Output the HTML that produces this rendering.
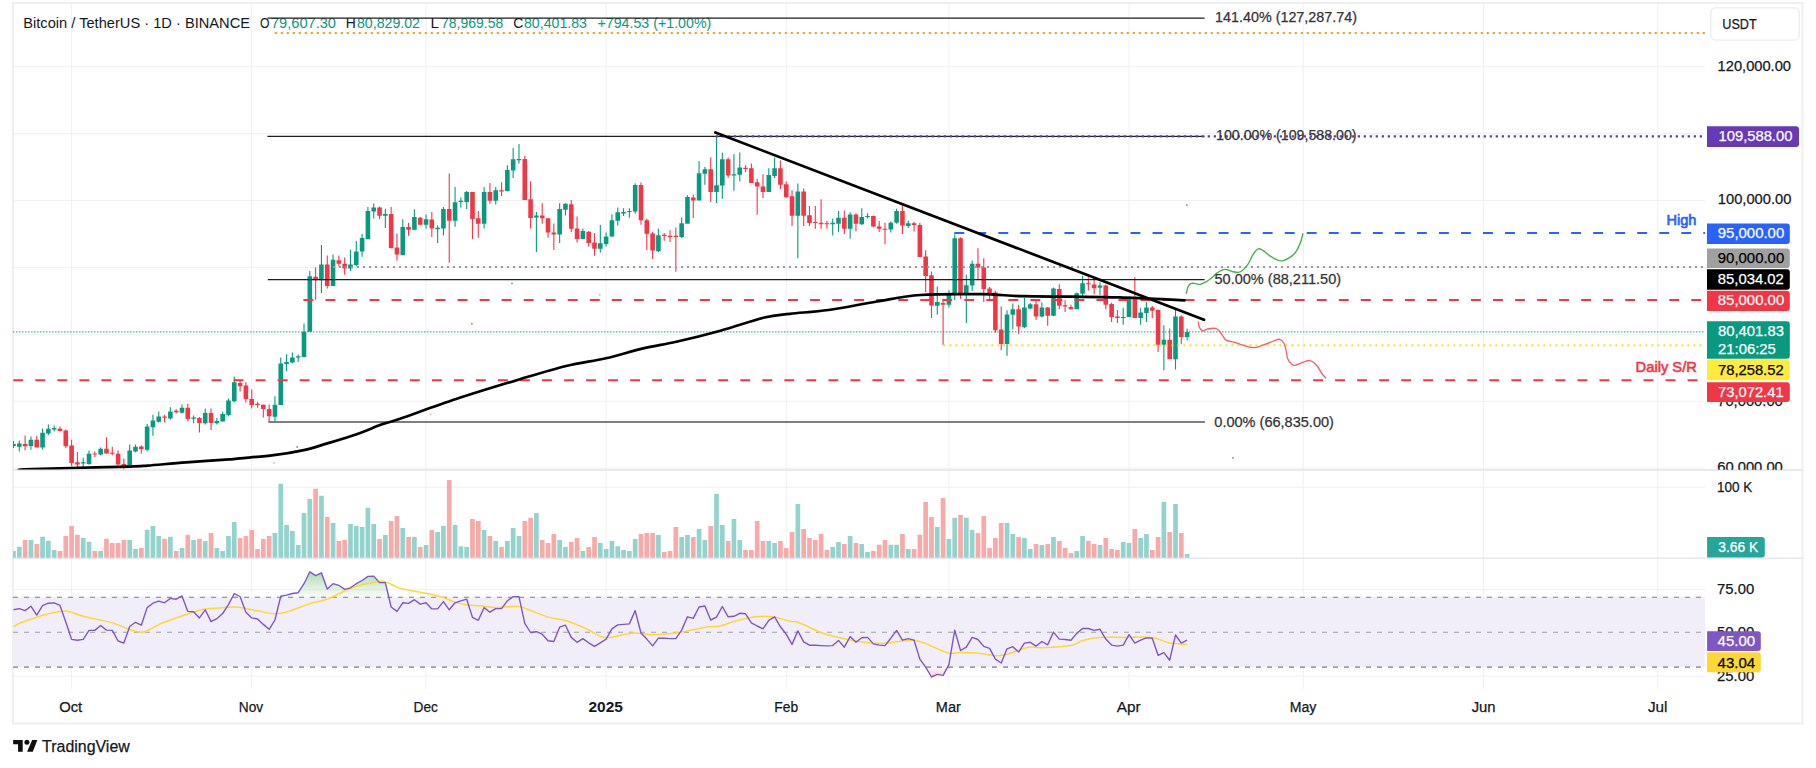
<!DOCTYPE html><html><head><meta charset="utf-8"><style>html,body{margin:0;padding:0;background:#fff;width:1816px;height:768px;overflow:hidden}svg{display:block}text{font-family:"Liberation Sans",sans-serif}</style></head><body>
<svg width="1816" height="768" viewBox="0 0 1816 768">
<defs>
<clipPath id="main"><rect x="13" y="3" width="1692" height="466.5"/></clipPath>
<clipPath id="vol"><rect x="13" y="470.5" width="1692" height="87.5"/></clipPath>
<clipPath id="rsi"><rect x="13" y="558.5" width="1692" height="130"/></clipPath>
<clipPath id="axmain"><rect x="1705" y="3" width="98" height="466.8"/></clipPath>
<linearGradient id="ob" x1="0" y1="0" x2="0" y2="1"><stop offset="0" stop-color="#4caf50" stop-opacity="0.45"/><stop offset="1" stop-color="#4caf50" stop-opacity="0.02"/></linearGradient>
<linearGradient id="os" x1="0" y1="0" x2="0" y2="1"><stop offset="0" stop-color="#f23645" stop-opacity="0.02"/><stop offset="1" stop-color="#f23645" stop-opacity="0.25"/></linearGradient>
</defs>
<rect x="13" y="3" width="1789.5" height="720.5" fill="#fff" stroke="#efefef" stroke-width="2"/>
<path d="M71.6 3V689 M251.7 3V689 M426 3V689 M606.1 3V689 M786.2 3V689 M948.9 3V689 M1129 3V689 M1303.3 3V689 M1483.4 3V689 M1657.7 3V689 M13 66.7H1705 M13 133.6H1705 M13 200.5H1705 M13 267.4H1705 M13 334.3H1705 M13 401.2H1705 M13 468.1H1705 M13 487.2H1705 M13 589.7H1705 M13 676.2H1705" stroke="#f0f0f0" stroke-width="1" fill="none"/>
<path d="M13 470H1803M13 558.2H1803" stroke="#e0e3eb" stroke-width="1.3" fill="none"/>
<g clip-path="url(#rsi)">
<rect x="13" y="597.2" width="1692" height="69.8" fill="#f2eef9"/>
<path d="M13 597.2H1705M13 667.1H1705" stroke="#787b86" stroke-width="1.1" stroke-dasharray="5 6" fill="none"/>
<path d="M13 632.2H1705" stroke="#9c9ea6" stroke-width="1.1" stroke-dasharray="5 6" fill="none"/>
<path d="M179.7 597.2 L181.99 595.9 L182.48 597.2 L182.48 597.2 L179.7 597.2Z" fill="url(#ob)"/>
<path d="M232.34 597.2 L234.28 593.5 L240.09 596.5 L240.35 597.2 L240.35 597.2 L232.34 597.2Z" fill="url(#ob)"/>
<path d="M280.53 597.2 L280.76 596.25 L286.57 595.1 L292.38 593.5 L298.19 592.7 L304 583.7 L309.81 571.8 L315.62 575.6 L321.43 572.8 L327.24 589.1 L333.05 583.7 L338.86 585.3 L344.67 589.4 L350.48 587.8 L356.29 583.7 L362.1 580.5 L367.91 576.4 L373.72 576.1 L379.53 582.6 L385.34 582.6 L388.82 597.2 L388.82 597.2 L280.53 597.2Z" fill="url(#ob)"/>
<path d="M512.45 597.2 L513.16 596.7 L518.97 596.7 L519.08 597.2 L519.08 597.2 L512.45 597.2Z" fill="url(#ob)"/>
<path d="M925.6 667.1 L925.67 667.2 L931.48 677 L937.29 674.4 L943.1 675.4 L947.57 667.1 L947.57 667.1 L925.6 667.1Z" fill="url(#os)"/>
<path d="M13.5 626.8 C14.5 626.22 16.32 624.65 19.5 623.3 C22.68 621.95 28.25 620.15 32.6 618.7 C36.95 617.25 40.18 615.9 45.6 614.6 C51.02 613.3 59.13 610.7 65.1 610.9 C71.07 611.1 75.97 614.37 81.4 615.8 C86.83 617.23 92.28 618.25 97.7 619.5 C103.12 620.75 109.02 621.8 113.9 623.3 C118.78 624.8 122.65 627.03 127 628.5 C131.35 629.97 136.75 631.7 140 632.1 C143.25 632.5 142.7 632.45 146.5 630.9 C150.3 629.35 156.83 625.32 162.8 622.8 C168.77 620.28 175.52 618.05 182.3 615.8 C189.08 613.55 197.27 610.58 203.5 609.3 C209.73 608.02 214.28 608.48 219.7 608.1 C225.12 607.72 229.9 606.58 236 607 C242.1 607.42 249.8 609.47 256.3 610.6 C262.8 611.73 269.58 613.67 275 613.8 C280.42 613.93 283.23 613.02 288.8 611.4 C294.37 609.78 301.88 606.18 308.4 604.1 C314.92 602.02 320.32 601.75 327.9 598.9 C335.48 596.05 345.5 589.88 353.9 587 C362.3 584.12 373.13 582.5 378.3 581.6 C383.47 580.7 381.92 580.77 384.9 581.6 C387.88 582.43 393.22 585.35 396.2 586.6 C399.18 587.85 397.63 587.95 402.8 589.1 C407.97 590.25 420.42 592.08 427.2 593.5 C433.98 594.92 438.9 596.17 443.5 597.6 C448.1 599.03 450.73 600.88 454.8 602.1 C458.87 603.32 463.7 604.3 467.9 604.9 C472.1 605.5 475.27 605.25 480 605.7 C484.73 606.15 490.07 607.52 496.3 607.6 C502.53 607.68 511.98 605.83 517.4 606.2 C522.82 606.57 523.63 607.98 528.8 609.8 C533.97 611.62 541.88 615.2 548.4 617.1 C554.92 619 561.4 619.17 567.9 621.2 C574.4 623.23 581.98 626.78 587.4 629.3 C592.82 631.82 596.6 634.95 600.4 636.3 C604.2 637.65 604.77 637.95 610.2 637.4 C615.63 636.85 625.95 633.45 633 633 C640.05 632.55 645.45 634.7 652.5 634.7 C659.55 634.7 668.78 633.77 675.3 633 C681.82 632.23 686.17 631.13 691.6 630.1 C697.03 629.07 703.17 627.48 707.9 626.8 C712.63 626.12 715.27 627 720 626 C724.73 625 730.33 622.33 736.3 620.8 C742.27 619.27 749.83 617.47 755.8 616.8 C761.77 616.13 766.13 616 772.1 616.8 C778.07 617.6 787.27 620.68 791.6 621.6 C795.93 622.52 793.22 620.48 798.1 622.3 C802.98 624.12 814.93 630.17 820.9 632.5 C826.87 634.83 827.67 634.8 833.9 636.3 C840.13 637.8 850.15 640.32 858.3 641.5 C866.45 642.68 876.02 643.4 882.8 643.4 C889.58 643.4 893.85 642.03 899 641.5 C904.15 640.97 909.35 639.88 913.7 640.2 C918.05 640.52 919.4 641.28 925.1 643.4 C930.8 645.52 942.08 651.37 947.9 652.9 C953.72 654.43 955.27 652.6 960 652.6 C964.73 652.6 970.87 652.45 976.3 652.9 C981.73 653.35 988.8 654.82 992.6 655.3 C996.4 655.78 996.4 656.07 999.1 655.8 C1001.8 655.53 1003.92 655.13 1008.8 653.7 C1013.68 652.27 1022.97 648.2 1028.4 647.2 C1033.83 646.2 1034.35 647.97 1041.4 647.7 C1048.45 647.43 1063.92 646.77 1070.7 645.6 C1077.48 644.43 1077.5 642.07 1082.1 640.7 C1086.7 639.33 1091.52 637.95 1098.3 637.4 C1105.08 636.85 1113.83 637.4 1122.8 637.4 C1131.77 637.4 1144.52 636.5 1152.1 637.4 C1159.68 638.3 1162.48 641.63 1168.3 642.8 C1174.12 643.97 1183.88 644.13 1187 644.4" stroke="#fdd835" stroke-width="1.5" fill="none" stroke-linejoin="round"/>
<path d="M13.5 609.8 L19.31 608.6 L25.12 610.6 L30.93 606.2 L36.74 615.1 L42.55 605.7 L48.36 603.2 L54.17 602.9 L59.98 605.4 L65.79 622 L71.6 639.4 L77.41 640.2 L83.22 639.4 L89.03 630.4 L94.84 630.4 L100.65 625.5 L106.46 630.1 L112.27 630.4 L118.08 641 L123.89 643.1 L129.7 626.5 L135.51 622.3 L141.32 625.2 L147.13 607.6 L152.94 603.2 L158.75 601.1 L164.56 602.8 L170.37 598.4 L176.18 599.2 L181.99 595.9 L187.8 611.4 L193.61 611.7 L199.42 617.9 L205.23 609.8 L211.04 621.6 L216.85 618.7 L222.66 613.5 L228.47 604.6 L234.28 593.5 L240.09 596.5 L245.9 612.2 L251.71 617.9 L257.52 619 L263.33 624.4 L269.14 629.3 L274.95 620 L280.76 596.25 L286.57 595.1 L292.38 593.5 L298.19 592.7 L304 583.7 L309.81 571.8 L315.62 575.6 L321.43 572.8 L327.24 589.1 L333.05 583.7 L338.86 585.3 L344.67 589.4 L350.48 587.8 L356.29 583.7 L362.1 580.5 L367.91 576.4 L373.72 576.1 L379.53 582.6 L385.34 582.6 L391.15 607 L396.96 611.4 L402.77 602.8 L408.58 603.4 L414.39 599.7 L420.2 604.1 L426.01 602.8 L431.82 608.9 L437.63 608.9 L443.44 601.6 L449.25 609.8 L455.06 602.8 L460.87 600.8 L466.68 599.2 L472.49 617.4 L478.3 620.3 L484.11 607.6 L489.92 612.2 L495.73 608.6 L501.54 608.6 L507.35 600.8 L513.16 596.7 L518.97 596.7 L524.78 623.3 L530.59 632.5 L536.4 631.7 L542.21 634.2 L548.02 640.7 L553.83 641.5 L559.64 627.2 L565.45 625.2 L571.26 637.4 L577.07 642.3 L582.88 638.6 L588.69 642.8 L594.5 646.4 L600.31 642.8 L606.12 639.1 L611.93 628.8 L617.74 624.9 L623.55 624.4 L629.36 623.9 L635.17 610.6 L640.98 633 L646.79 639.1 L652.6 645.9 L658.41 638.2 L664.22 638.2 L670.03 638.6 L675.84 638.6 L681.65 630.1 L687.46 616.8 L693.27 618.4 L699.08 607 L704.89 606 L710.7 620 L716.51 617.1 L722.32 606.5 L728.13 616.8 L733.94 616.3 L739.75 613.3 L745.56 613.8 L751.37 622.8 L757.18 626 L762.99 628.8 L768.8 620.3 L774.61 616.8 L780.42 626.8 L786.23 634.2 L792.04 644.4 L797.85 630.9 L803.66 641.8 L809.47 645.2 L815.28 645.2 L821.09 645.6 L826.9 645.9 L832.71 645.6 L838.52 640.4 L844.33 647.2 L850.14 636.6 L855.95 642.3 L861.76 637.8 L867.57 637.4 L873.38 643.9 L879.19 645.1 L885 645.6 L890.81 638.2 L896.62 630.4 L902.43 640.2 L908.24 638.6 L914.05 640.2 L919.86 659.1 L925.67 667.2 L931.48 677 L937.29 674.4 L943.1 675.4 L948.91 664.6 L954.72 630.1 L960.53 650.5 L966.34 647.2 L972.15 637.4 L977.96 639.5 L983.77 646.4 L989.58 648.3 L995.39 659.1 L1001.2 663 L1007.01 648.8 L1012.82 646.7 L1018.63 652.1 L1024.44 643.1 L1030.25 642.3 L1036.06 646.1 L1041.87 641.5 L1047.68 644.8 L1053.49 632.1 L1059.3 639.1 L1065.11 639.5 L1070.92 640.2 L1076.73 633.4 L1082.54 628.5 L1088.35 628.5 L1094.16 630.4 L1099.97 629.3 L1105.78 639.1 L1111.59 645.1 L1117.4 646.1 L1123.21 645.1 L1129.02 634.7 L1134.83 643.1 L1140.64 640.2 L1146.45 637.9 L1152.26 638.2 L1158.07 655.3 L1163.88 652.6 L1169.69 660.2 L1175.5 635 L1181.31 643.1 L1187.12 640.2" stroke="#7e57c2" stroke-width="1.4" fill="none" stroke-linejoin="round"/>
</g>
<g clip-path="url(#vol)">
<path d="M11.15 550.9h4.7V557.7h-4.7ZM16.96 546.8h4.7V557.7h-4.7ZM28.58 540h4.7V557.7h-4.7ZM40.2 536.8h4.7V557.7h-4.7ZM46.01 540.7h4.7V557.7h-4.7ZM51.82 550h4.7V557.7h-4.7ZM80.87 537.8h4.7V557.7h-4.7ZM86.68 541.7h4.7V557.7h-4.7ZM98.3 550.9h4.7V557.7h-4.7ZM127.35 540h4.7V557.7h-4.7ZM133.16 549.1h4.7V557.7h-4.7ZM144.78 529.8h4.7V557.7h-4.7ZM150.59 525.9h4.7V557.7h-4.7ZM156.4 535.9h4.7V557.7h-4.7ZM168.02 536.8h4.7V557.7h-4.7ZM179.64 548h4.7V557.7h-4.7ZM191.26 540h4.7V557.7h-4.7ZM202.88 540.9h4.7V557.7h-4.7ZM214.5 548h4.7V557.7h-4.7ZM220.31 550.9h4.7V557.7h-4.7ZM226.12 536h4.7V557.7h-4.7ZM231.93 521.9h4.7V557.7h-4.7ZM272.6 533.1h4.7V557.7h-4.7ZM278.41 483.8h4.7V557.7h-4.7ZM284.22 524.9h4.7V557.7h-4.7ZM290.03 531h4.7V557.7h-4.7ZM295.84 545h4.7V557.7h-4.7ZM301.65 513h4.7V557.7h-4.7ZM307.46 499h4.7V557.7h-4.7ZM319.08 495.8h4.7V557.7h-4.7ZM330.7 523h4.7V557.7h-4.7ZM348.13 523.9h4.7V557.7h-4.7ZM353.94 526h4.7V557.7h-4.7ZM359.75 527.1h4.7V557.7h-4.7ZM365.56 507.7h4.7V557.7h-4.7ZM371.37 523.9h4.7V557.7h-4.7ZM382.99 535.1h4.7V557.7h-4.7ZM400.42 528h4.7V557.7h-4.7ZM412.04 537.1h4.7V557.7h-4.7ZM423.66 545h4.7V557.7h-4.7ZM435.28 531.9h4.7V557.7h-4.7ZM441.09 526h4.7V557.7h-4.7ZM452.71 525.1h4.7V557.7h-4.7ZM458.52 546.2h4.7V557.7h-4.7ZM464.33 547h4.7V557.7h-4.7ZM481.76 530h4.7V557.7h-4.7ZM493.38 540.9h4.7V557.7h-4.7ZM505 540.9h4.7V557.7h-4.7ZM510.81 528h4.7V557.7h-4.7ZM516.62 536h4.7V557.7h-4.7ZM534.05 513h4.7V557.7h-4.7ZM557.29 540h4.7V557.7h-4.7ZM563.1 547h4.7V557.7h-4.7ZM580.53 550.9h4.7V557.7h-4.7ZM597.96 542.9h4.7V557.7h-4.7ZM603.77 549.1h4.7V557.7h-4.7ZM609.58 540.9h4.7V557.7h-4.7ZM615.39 546.2h4.7V557.7h-4.7ZM621.2 550.1h4.7V557.7h-4.7ZM627.01 550.9h4.7V557.7h-4.7ZM632.82 538.9h4.7V557.7h-4.7ZM656.06 535.1h4.7V557.7h-4.7ZM679.3 537.1h4.7V557.7h-4.7ZM685.11 535.1h4.7V557.7h-4.7ZM696.73 529h4.7V557.7h-4.7ZM702.54 540h4.7V557.7h-4.7ZM714.16 494h4.7V557.7h-4.7ZM719.97 525.1h4.7V557.7h-4.7ZM731.59 519h4.7V557.7h-4.7ZM737.4 540h4.7V557.7h-4.7ZM766.45 540.9h4.7V557.7h-4.7ZM772.26 542.9h4.7V557.7h-4.7ZM795.5 504h4.7V557.7h-4.7ZM830.36 547h4.7V557.7h-4.7ZM836.17 541.9h4.7V557.7h-4.7ZM847.79 536h4.7V557.7h-4.7ZM859.41 543.9h4.7V557.7h-4.7ZM865.22 552.1h4.7V557.7h-4.7ZM888.46 544.8h4.7V557.7h-4.7ZM894.27 544.8h4.7V557.7h-4.7ZM905.89 549.1h4.7V557.7h-4.7ZM934.94 527.1h4.7V557.7h-4.7ZM946.56 538.9h4.7V557.7h-4.7ZM952.37 517.8h4.7V557.7h-4.7ZM963.99 517.8h4.7V557.7h-4.7ZM969.8 530h4.7V557.7h-4.7ZM1004.66 523h4.7V557.7h-4.7ZM1010.47 533.9h4.7V557.7h-4.7ZM1022.09 538h4.7V557.7h-4.7ZM1027.9 549.1h4.7V557.7h-4.7ZM1039.52 545h4.7V557.7h-4.7ZM1051.14 537.1h4.7V557.7h-4.7ZM1074.38 550.9h4.7V557.7h-4.7ZM1080.19 536h4.7V557.7h-4.7ZM1097.62 545h4.7V557.7h-4.7ZM1120.86 541.9h4.7V557.7h-4.7ZM1126.67 542.9h4.7V557.7h-4.7ZM1138.29 538h4.7V557.7h-4.7ZM1144.1 533.9h4.7V557.7h-4.7ZM1161.53 501.9h4.7V557.7h-4.7ZM1173.15 504h4.7V557.7h-4.7ZM1184.77 554.1h4.7V557.7h-4.7Z" fill="#93d3cd"/>
<path d="M22.77 540h4.7V557.7h-4.7ZM34.39 543.9h4.7V557.7h-4.7ZM57.63 550.9h4.7V557.7h-4.7ZM63.44 535.9h4.7V557.7h-4.7ZM69.25 525.9h4.7V557.7h-4.7ZM75.06 534.8h4.7V557.7h-4.7ZM92.49 550.9h4.7V557.7h-4.7ZM104.11 538.8h4.7V557.7h-4.7ZM109.92 542.9h4.7V557.7h-4.7ZM115.73 542.9h4.7V557.7h-4.7ZM121.54 540h4.7V557.7h-4.7ZM138.97 548h4.7V557.7h-4.7ZM162.21 538.8h4.7V557.7h-4.7ZM173.83 550.9h4.7V557.7h-4.7ZM185.45 534.8h4.7V557.7h-4.7ZM197.07 538.8h4.7V557.7h-4.7ZM208.69 533.1h4.7V557.7h-4.7ZM237.74 538h4.7V557.7h-4.7ZM243.55 536h4.7V557.7h-4.7ZM249.36 530h4.7V557.7h-4.7ZM255.17 549.1h4.7V557.7h-4.7ZM260.98 538.9h4.7V557.7h-4.7ZM266.79 536h4.7V557.7h-4.7ZM313.27 488.8h4.7V557.7h-4.7ZM324.89 516.9h4.7V557.7h-4.7ZM336.51 540.9h4.7V557.7h-4.7ZM342.32 540.1h4.7V557.7h-4.7ZM377.18 538.9h4.7V557.7h-4.7ZM388.8 521h4.7V557.7h-4.7ZM394.61 516h4.7V557.7h-4.7ZM406.23 537.1h4.7V557.7h-4.7ZM417.85 547h4.7V557.7h-4.7ZM429.47 530h4.7V557.7h-4.7ZM446.9 480h4.7V557.7h-4.7ZM470.14 519h4.7V557.7h-4.7ZM475.95 521h4.7V557.7h-4.7ZM487.57 536h4.7V557.7h-4.7ZM499.19 547h4.7V557.7h-4.7ZM522.43 521h4.7V557.7h-4.7ZM528.24 517.8h4.7V557.7h-4.7ZM539.86 540h4.7V557.7h-4.7ZM545.67 542.9h4.7V557.7h-4.7ZM551.48 533.9h4.7V557.7h-4.7ZM568.91 541.9h4.7V557.7h-4.7ZM574.72 538h4.7V557.7h-4.7ZM586.34 547h4.7V557.7h-4.7ZM592.15 537.1h4.7V557.7h-4.7ZM638.63 533.9h4.7V557.7h-4.7ZM644.44 533.1h4.7V557.7h-4.7ZM650.25 533.1h4.7V557.7h-4.7ZM661.87 552.1h4.7V557.7h-4.7ZM667.68 550.9h4.7V557.7h-4.7ZM673.49 527.1h4.7V557.7h-4.7ZM690.92 537.1h4.7V557.7h-4.7ZM708.35 526h4.7V557.7h-4.7ZM725.78 540.9h4.7V557.7h-4.7ZM743.21 550.1h4.7V557.7h-4.7ZM749.02 550.1h4.7V557.7h-4.7ZM754.83 521h4.7V557.7h-4.7ZM760.64 540.9h4.7V557.7h-4.7ZM778.07 540.9h4.7V557.7h-4.7ZM783.88 548h4.7V557.7h-4.7ZM789.69 531.9h4.7V557.7h-4.7ZM801.31 529h4.7V557.7h-4.7ZM807.12 538h4.7V557.7h-4.7ZM812.93 540h4.7V557.7h-4.7ZM818.74 533.9h4.7V557.7h-4.7ZM824.55 550.1h4.7V557.7h-4.7ZM841.98 543.9h4.7V557.7h-4.7ZM853.6 542.9h4.7V557.7h-4.7ZM871.03 550.9h4.7V557.7h-4.7ZM876.84 544.8h4.7V557.7h-4.7ZM882.65 540h4.7V557.7h-4.7ZM900.08 533.9h4.7V557.7h-4.7ZM911.7 549.1h4.7V557.7h-4.7ZM917.51 534.8h4.7V557.7h-4.7ZM923.32 501.9h4.7V557.7h-4.7ZM929.13 516.9h4.7V557.7h-4.7ZM940.75 497.9h4.7V557.7h-4.7ZM958.18 514.9h4.7V557.7h-4.7ZM975.61 533.1h4.7V557.7h-4.7ZM981.42 516h4.7V557.7h-4.7ZM987.23 548h4.7V557.7h-4.7ZM993.04 538h4.7V557.7h-4.7ZM998.85 523h4.7V557.7h-4.7ZM1016.28 537.1h4.7V557.7h-4.7ZM1033.71 543.9h4.7V557.7h-4.7ZM1045.33 543.9h4.7V557.7h-4.7ZM1056.95 540.9h4.7V557.7h-4.7ZM1062.76 548h4.7V557.7h-4.7ZM1068.57 553h4.7V557.7h-4.7ZM1086 540.9h4.7V557.7h-4.7ZM1091.81 543.9h4.7V557.7h-4.7ZM1103.43 538h4.7V557.7h-4.7ZM1109.24 549.1h4.7V557.7h-4.7ZM1115.05 550.1h4.7V557.7h-4.7ZM1132.48 529h4.7V557.7h-4.7ZM1149.91 550.1h4.7V557.7h-4.7ZM1155.72 537.1h4.7V557.7h-4.7ZM1167.34 531.9h4.7V557.7h-4.7ZM1178.96 533.1h4.7V557.7h-4.7Z" fill="#f8aaa9"/>
</g>
<text x="23.25" y="28" font-size="15.2" fill="#131722" textLength="226.75" lengthAdjust="spacingAndGlyphs" stroke="#131722" stroke-width="0" >Bitcoin / TetherUS · 1D · BINANCE</text>
<text x="259.9" y="28" font-size="15.2" fill="#131722" textLength="9.5" lengthAdjust="spacingAndGlyphs" stroke="#131722" stroke-width="0" >O</text>
<text x="271" y="28" font-size="15.2" fill="#089981" textLength="65" lengthAdjust="spacingAndGlyphs" stroke="#089981" stroke-width="0" >79,607.30</text>
<text x="345.75" y="28" font-size="15.2" fill="#131722" textLength="10" lengthAdjust="spacingAndGlyphs" stroke="#131722" stroke-width="0" >H</text>
<text x="357" y="28" font-size="15.2" fill="#089981" textLength="63" lengthAdjust="spacingAndGlyphs" stroke="#089981" stroke-width="0" >80,829.02</text>
<text x="430.5" y="28" font-size="15.2" fill="#131722" textLength="8.5" lengthAdjust="spacingAndGlyphs" stroke="#131722" stroke-width="0" >L</text>
<text x="441" y="28" font-size="15.2" fill="#089981" textLength="62.25" lengthAdjust="spacingAndGlyphs" stroke="#089981" stroke-width="0" >78,969.58</text>
<text x="513.25" y="28" font-size="15.2" fill="#131722" textLength="10" lengthAdjust="spacingAndGlyphs" stroke="#131722" stroke-width="0" >C</text>
<text x="524" y="28" font-size="15.2" fill="#089981" textLength="63" lengthAdjust="spacingAndGlyphs" stroke="#089981" stroke-width="0" >80,401.83</text>
<text x="597.5" y="28" font-size="15.2" fill="#089981" textLength="113.75" lengthAdjust="spacingAndGlyphs" stroke="#089981" stroke-width="0" >+794.53 (+1.00%)</text>
<g clip-path="url(#main)">
<path d="M12.95 441h1.1V448h-1.1ZM18.76 440.5h1.1V451.4h-1.1ZM30.38 436.6h1.1V449.8h-1.1ZM42 428.4h1.1V449.4h-1.1ZM47.81 424.4h1.1V435.3h-1.1ZM53.62 425.6h1.1V431.6h-1.1ZM82.67 457.7h1.1V468.6h-1.1ZM88.48 450.6h1.1V464.7h-1.1ZM100.1 447.5h1.1V455.6h-1.1ZM129.15 444.4h1.1V466.25h-1.1ZM134.96 444.4h1.1V452.2h-1.1ZM146.58 424h1.1V451.4h-1.1ZM152.39 414.7h1.1V435.8h-1.1ZM158.2 411.6h1.1V422.5h-1.1ZM169.82 407.2h1.1V419.4h-1.1ZM181.44 404.5h1.1V413.4h-1.1ZM193.06 415.5h1.1V423.3h-1.1ZM204.68 408.4h1.1V424.4h-1.1ZM216.3 417.9h1.1V424.4h-1.1ZM222.11 411.6h1.1V421.8h-1.1ZM227.92 398.6h1.1V416.2h-1.1ZM233.73 376.5h1.1V402.2h-1.1ZM274.4 396.25h1.1V421.4h-1.1ZM280.21 357.6h1.1V405.1h-1.1ZM286.02 354.3h1.1V371.25h-1.1ZM291.83 352.4h1.1V363.2h-1.1ZM297.64 354.6h1.1V362.1h-1.1ZM303.45 323.6h1.1V356.9h-1.1ZM309.26 270.9h1.1V331.8h-1.1ZM320.88 245h1.1V293.1h-1.1ZM332.5 254.4h1.1V286.1h-1.1ZM349.93 249.8h1.1V270.9h-1.1ZM355.74 241.1h1.1V266.2h-1.1ZM361.55 234h1.1V256.8h-1.1ZM367.36 206.9h1.1V239.2h-1.1ZM373.17 203.6h1.1V218.6h-1.1ZM384.79 208.7h1.1V228h-1.1ZM402.22 219.3h1.1V255.2h-1.1ZM413.84 209.2h1.1V230.3h-1.1ZM425.46 214.6h1.1V228.7h-1.1ZM437.08 225.3h1.1V242.9h-1.1ZM442.89 207.1h1.1V235.5h-1.1ZM454.51 187h1.1V226.7h-1.1ZM460.32 197.4h1.1V207.7h-1.1ZM466.13 191h1.1V209.1h-1.1ZM483.56 187h1.1V228.6h-1.1ZM495.18 187h1.1V204.6h-1.1ZM506.8 165.2h1.1V191.5h-1.1ZM512.61 148h1.1V177.9h-1.1ZM518.42 144h1.1V163.6h-1.1ZM535.85 212h1.1V252h-1.1ZM559.09 203.2h1.1V242.9h-1.1ZM564.9 203.2h1.1V215.6h-1.1ZM582.33 228.4h1.1V239.3h-1.1ZM599.76 225.1h1.1V252.4h-1.1ZM605.57 232.4h1.1V246.6h-1.1ZM611.38 214.2h1.1V237.1h-1.1ZM617.19 207.4h1.1V225.6h-1.1ZM623 208.3h1.1V216h-1.1ZM628.81 208.3h1.1V217.8h-1.1ZM634.62 183.2h1.1V213.4h-1.1ZM657.86 228.4h1.1V252.1h-1.1ZM681.1 217.4h1.1V237.9h-1.1ZM686.91 195.2h1.1V223.8h-1.1ZM698.53 161h1.1V200.6h-1.1ZM704.34 167h1.1V184.7h-1.1ZM715.96 136h1.1V203h-1.1ZM721.77 152.4h1.1V198.7h-1.1ZM733.39 154.3h1.1V190.7h-1.1ZM739.2 152.4h1.1V181.6h-1.1ZM768.25 168.3h1.1V192h-1.1ZM774.06 157.4h1.1V178h-1.1ZM797.3 183.4h1.1V258.2h-1.1ZM832.16 218.4h1.1V235.4h-1.1ZM837.97 211h1.1V232.1h-1.1ZM849.59 212.2h1.1V238.7h-1.1ZM861.21 208.2h1.1V225h-1.1ZM867.02 213.3h1.1V218.4h-1.1ZM890.26 221.5h1.1V232.5h-1.1ZM896.07 208.8h1.1V223.7h-1.1ZM907.69 220.6h1.1V228.1h-1.1ZM936.74 286.5h1.1V314.8h-1.1ZM948.36 290.2h1.1V307.5h-1.1ZM954.17 234.2h1.1V300.2h-1.1ZM965.79 274.7h1.1V323h-1.1ZM971.6 260.5h1.1V291.1h-1.1ZM1006.46 310.2h1.1V355.8h-1.1ZM1012.27 303.5h1.1V329.4h-1.1ZM1023.89 298h1.1V327.9h-1.1ZM1029.7 302.9h1.1V309.3h-1.1ZM1041.32 302.4h1.1V317.5h-1.1ZM1052.94 287.4h1.1V316.2h-1.1ZM1076.18 292.4h1.1V309.2h-1.1ZM1081.99 276h1.1V296.5h-1.1ZM1099.42 282.2h1.1V295h-1.1ZM1122.66 307.8h1.1V324.7h-1.1ZM1128.47 296.5h1.1V316.9h-1.1ZM1140.09 307.8h1.1V324.7h-1.1ZM1145.9 302.3h1.1V322h-1.1ZM1163.33 325.3h1.1V370.3h-1.1ZM1174.95 309.2h1.1V369.4h-1.1ZM1186.57 328.4h1.1V340.2h-1.1ZM11.2 444h4.6v2h-4.6ZM17.01 443.6h4.6v3.1h-4.6ZM28.63 439.7h4.6v6.2h-4.6ZM40.25 432.7h4.6v14.8h-4.6ZM46.06 428.75h4.6v4.65h-4.6ZM51.87 428h4.6v1.5h-4.6ZM80.92 462.3h4.6v1.1h-4.6ZM86.73 453.75h4.6v10.15h-4.6ZM98.35 448.75h4.6v5.75h-4.6ZM127.4 450.6h4.6v15.65h-4.6ZM133.21 446.7h4.6v4.7h-4.6ZM144.83 426.4h4.6v23.4h-4.6ZM150.64 420.6h4.6v6.6h-4.6ZM156.45 416.6h4.6v5.1h-4.6ZM168.07 411.6h4.6v7h-4.6ZM179.69 407.7h4.6v5.1h-4.6ZM191.31 417.5h4.6v1.3h-4.6ZM202.93 412.9h4.6v10.4h-4.6ZM214.55 421h4.6v2.3h-4.6ZM220.36 414h4.6v7.4h-4.6ZM226.17 400.5h4.6v14.4h-4.6ZM231.98 382.3h4.6v18.9h-4.6ZM272.65 404.8h4.6v12h-4.6ZM278.46 363.4h4.6v41.7h-4.6ZM284.27 361.9h4.6v2.2h-4.6ZM290.08 357.6h4.6v4.8h-4.6ZM295.89 356.3h4.6v1.3h-4.6ZM301.7 331.8h4.6v25.1h-4.6ZM307.51 276.2h4.6v55.6h-4.6ZM319.13 264.5h4.6v15.7h-4.6ZM330.75 259.8h4.6v26.3h-4.6ZM348.18 264.5h4.6v4h-4.6ZM353.99 251.4h4.6v13.6h-4.6ZM359.8 238h4.6v13.4h-4.6ZM365.61 211.1h4.6v28.1h-4.6ZM371.42 207.6h4.6v4h-4.6ZM383.04 214.1h4.6v1.7h-4.6ZM400.47 227h4.6v28.2h-4.6ZM412.09 217h4.6v12.8h-4.6ZM423.71 219.3h4.6v5.4h-4.6ZM435.33 227.7h4.6v1.5h-4.6ZM441.14 209.1h4.6v19.5h-4.6ZM452.76 202.3h4.6v18.5h-4.6ZM458.57 200.7h4.6v1.2h-4.6ZM464.38 192.1h4.6v9.8h-4.6ZM481.81 192.1h4.6v31.65h-4.6ZM493.43 190.2h4.6v10.5h-4.6ZM505.05 170h4.6v20.9h-4.6ZM510.86 159.3h4.6v11.3h-4.6ZM516.67 158.9h4.6v1.4h-4.6ZM534.1 215.5h4.6v2h-4.6ZM557.34 209.1h4.6v25.4h-4.6ZM563.15 203.8h4.6v6h-4.6ZM580.58 231.1h4.6v7.9h-4.6ZM598.01 243.3h4.6v5.5h-4.6ZM603.82 236.6h4.6v7.3h-4.6ZM609.63 220.2h4.6v16.4h-4.6ZM615.44 212.3h4.6v8.4h-4.6ZM621.25 212h4.6v1.4h-4.6ZM627.06 211h4.6v1h-4.6ZM632.87 185h4.6v26.6h-4.6ZM656.11 235.3h4.6v15.9h-4.6ZM679.35 223.3h4.6v13.8h-4.6ZM685.16 197h4.6v26.8h-4.6ZM696.78 173.2h4.6v27.4h-4.6ZM702.59 169.2h4.6v4.6h-4.6ZM714.21 185.3h4.6v6.7h-4.6ZM720.02 159.2h4.6v26.4h-4.6ZM731.64 174.3h4.6v1.3h-4.6ZM737.45 167.4h4.6v7.3h-4.6ZM766.5 175h4.6v17h-4.6ZM772.31 168.3h4.6v7.8h-4.6ZM795.55 191.5h4.6v24.2h-4.6ZM830.41 222.8h4.6v1.5h-4.6ZM836.22 217.7h4.6v6h-4.6ZM847.84 214.4h4.6v14.4h-4.6ZM859.46 217h4.6v7.3h-4.6ZM865.27 216.1h4.6v1h-4.6ZM888.51 222.8h4.6v6.6h-4.6ZM894.32 211h4.6v11.8h-4.6ZM905.94 223.2h4.6v2.7h-4.6ZM934.99 302h4.6v3.7h-4.6ZM946.61 293.8h4.6v11h-4.6ZM952.42 238.2h4.6v55.6h-4.6ZM964.04 285.3h4.6v7.6h-4.6ZM969.85 263.7h4.6v21.9h-4.6ZM1004.71 314.4h4.6v29.6h-4.6ZM1010.52 309.3h4.6v5.5h-4.6ZM1022.14 307.5h4.6v19.7h-4.6ZM1027.95 304.2h4.6v4.2h-4.6ZM1039.57 307.5h4.6v9.1h-4.6ZM1051.19 288.4h4.6v27.3h-4.6ZM1074.43 293.2h4.6v16h-4.6ZM1080.24 283.3h4.6v10.4h-4.6ZM1097.67 285.5h4.6v2.2h-4.6ZM1120.91 316.9h4.6v1.1h-4.6ZM1126.72 299.2h4.6v17.7h-4.6ZM1138.34 312.5h4.6v5.5h-4.6ZM1144.15 307.4h4.6v5.5h-4.6ZM1161.58 339.8h4.6v5h-4.6ZM1173.2 316.5h4.6v42.8h-4.6ZM1184.82 332h4.6v4.9h-4.6Z" fill="#089981"/>
<path d="M24.57 435.5h1.1V450.3h-1.1ZM36.19 435.8h1.1V447.5h-1.1ZM59.43 426.4h1.1V431.6h-1.1ZM65.24 429.5h1.1V448.3h-1.1ZM71.05 439.7h1.1V466.25h-1.1ZM76.86 451.9h1.1V467.5h-1.1ZM94.29 451.4h1.1V456.9h-1.1ZM105.91 437.3h1.1V453.75h-1.1ZM111.72 446.7h1.1V455.3h-1.1ZM117.53 450.6h1.1V465h-1.1ZM123.34 458.4h1.1V469.4h-1.1ZM140.77 445.2h1.1V453.75h-1.1ZM164.01 414.7h1.1V422.5h-1.1ZM175.63 409.2h1.1V413.4h-1.1ZM187.25 403.75h1.1V421.25h-1.1ZM198.87 417h1.1V432.4h-1.1ZM210.49 408.4h1.1V430.1h-1.1ZM239.54 381h1.1V391.4h-1.1ZM245.35 382.3h1.1V402.5h-1.1ZM251.16 389.5h1.1V408.4h-1.1ZM256.97 401.8h1.1V407.7h-1.1ZM262.78 404.5h1.1V417.5h-1.1ZM268.59 404.5h1.1V421.4h-1.1ZM315.07 267.3h1.1V299.7h-1.1ZM326.69 255.6h1.1V288.4h-1.1ZM338.31 255.6h1.1V266.2h-1.1ZM344.12 257.5h1.1V274.8h-1.1ZM378.98 206.4h1.1V219.3h-1.1ZM390.6 206.9h1.1V248.6h-1.1ZM396.41 233.4h1.1V260.8h-1.1ZM408.03 222.8h1.1V235.7h-1.1ZM419.65 217h1.1V225.2h-1.1ZM431.27 212h1.1V237h-1.1ZM448.7 173.4h1.1V262.8h-1.1ZM471.94 192.1h1.1V239h-1.1ZM477.75 211h1.1V237.8h-1.1ZM489.37 183.1h1.1V203.8h-1.1ZM500.99 182.3h1.1V196h-1.1ZM524.23 155.8h1.1V199.9h-1.1ZM530.04 181.2h1.1V228.6h-1.1ZM541.66 203.2h1.1V223.75h-1.1ZM547.47 218.3h1.1V237.8h-1.1ZM553.28 223.4h1.1V250.1h-1.1ZM570.71 200.1h1.1V232h-1.1ZM576.52 216.5h1.1V242.6h-1.1ZM588.14 231.1h1.1V246.6h-1.1ZM593.95 232.9h1.1V255.7h-1.1ZM640.43 182.4h1.1V224.7h-1.1ZM646.24 218.4h1.1V249.9h-1.1ZM652.05 231.7h1.1V259h-1.1ZM663.67 232.9h1.1V240.8h-1.1ZM669.48 230.2h1.1V242h-1.1ZM675.29 227.5h1.1V271.8h-1.1ZM692.72 194.4h1.1V218.1h-1.1ZM710.15 157.4h1.1V202h-1.1ZM727.58 157.4h1.1V178h-1.1ZM745.01 165.2h1.1V172h-1.1ZM750.82 163.4h1.1V182.9h-1.1ZM756.63 178.7h1.1V214.8h-1.1ZM762.44 174.3h1.1V198h-1.1ZM779.87 160.5h1.1V188.9h-1.1ZM785.68 181.6h1.1V198h-1.1ZM791.49 190.2h1.1V226.1h-1.1ZM803.11 188.4h1.1V226.1h-1.1ZM808.92 206h1.1V226.1h-1.1ZM814.73 206h1.1V229h-1.1ZM820.54 199.3h1.1V228.8h-1.1ZM826.35 221h1.1V228.8h-1.1ZM843.78 210.4h1.1V233.9h-1.1ZM855.4 213.3h1.1V231.6h-1.1ZM872.83 215.5h1.1V227.2h-1.1ZM878.64 221h1.1V232.1h-1.1ZM884.45 222.8h1.1V244.3h-1.1ZM901.88 205.5h1.1V233.9h-1.1ZM913.5 222.1h1.1V231.6h-1.1ZM919.31 222.8h1.1V256.9h-1.1ZM925.12 250.3h1.1V292.3h-1.1ZM930.93 271.5h1.1V318h-1.1ZM942.55 300.2h1.1V344.9h-1.1ZM959.98 237.3h1.1V298.7h-1.1ZM977.41 248.3h1.1V280.2h-1.1ZM983.22 258.3h1.1V302h-1.1ZM989.03 287.1h1.1V300.2h-1.1ZM994.84 291.1h1.1V332.7h-1.1ZM1000.65 306.6h1.1V350.3h-1.1ZM1018.08 304.8h1.1V333.9h-1.1ZM1035.51 300.2h1.1V319.9h-1.1ZM1047.13 307.1h1.1V325.7h-1.1ZM1058.75 284.2h1.1V309.3h-1.1ZM1064.56 300.2h1.1V312h-1.1ZM1070.37 304.7h1.1V309.6h-1.1ZM1087.8 277.3h1.1V290.6h-1.1ZM1093.61 279.1h1.1V294.3h-1.1ZM1105.23 284.6h1.1V309.2h-1.1ZM1111.04 302.8h1.1V322h-1.1ZM1116.85 310.1h1.1V322.9h-1.1ZM1134.28 277.3h1.1V318h-1.1ZM1151.71 305.9h1.1V318h-1.1ZM1157.52 309.2h1.1V352h-1.1ZM1169.14 328.4h1.1V359.3h-1.1ZM1180.76 315.6h1.1V344.2h-1.1ZM22.82 443.9h4.6v2.35h-4.6ZM34.44 439.7h4.6v7.8h-4.6ZM57.68 428.75h4.6v2.35h-4.6ZM63.49 430.6h4.6v15.65h-4.6ZM69.3 445.6h4.6v17.5h-4.6ZM75.11 462.3h4.6v2.1h-4.6ZM92.54 453.4h4.6v1.1h-4.6ZM104.16 448.75h4.6v4.65h-4.6ZM109.97 452.7h4.6v1.05h-4.6ZM115.78 453.75h4.6v10.65h-4.6ZM121.59 463.9h4.6v2.35h-4.6ZM139.02 446.4h4.6v2.6h-4.6ZM162.26 416.6h4.6v1.2h-4.6ZM173.88 410.8h4.6v1.5h-4.6ZM185.5 407.7h4.6v11.3h-4.6ZM197.12 417.9h4.6v5.2h-4.6ZM208.74 412.9h4.6v10.2h-4.6ZM237.79 383h4.6v3.2h-4.6ZM243.6 385.6h4.6v13.3h-4.6ZM249.41 398.9h4.6v6.2h-4.6ZM255.22 403.8h4.6v1.3h-4.6ZM261.03 404.8h4.6v4.2h-4.6ZM266.84 409h4.6v7.2h-4.6ZM313.32 276.7h4.6v3.5h-4.6ZM324.94 264.5h4.6v21.6h-4.6ZM336.56 260.3h4.6v3.5h-4.6ZM342.37 263.8h4.6v4.7h-4.6ZM377.23 207.6h4.6v8.2h-4.6ZM388.85 214.1h4.6v34h-4.6ZM394.66 247.4h4.6v7h-4.6ZM406.28 227h4.6v2.8h-4.6ZM417.9 217.7h4.6v7h-4.6ZM429.52 219.5h4.6v9.1h-4.6ZM446.95 209.1h4.6v11.7h-4.6ZM470.19 192.1h4.6v26.8h-4.6ZM476 218.3h4.6v5.45h-4.6ZM487.62 192.1h4.6v8.6h-4.6ZM499.24 190.2h4.6v1.3h-4.6ZM522.48 158.9h4.6v41h-4.6ZM528.29 199.3h4.6v18.6h-4.6ZM539.91 215.5h4.6v2.8h-4.6ZM545.72 218.3h4.6v14.2h-4.6ZM551.53 232.5h4.6v2h-4.6ZM568.96 204.3h4.6v24.4h-4.6ZM574.77 228.4h4.6v10.6h-4.6ZM586.39 231.7h4.6v11.3h-4.6ZM592.2 242.6h4.6v6.2h-4.6ZM638.68 185h4.6v35.2h-4.6ZM644.49 220.2h4.6v13.6h-4.6ZM650.3 233.5h4.6v17.1h-4.6ZM661.92 234.8h4.6v1.2h-4.6ZM667.73 235.7h4.6v1.4h-4.6ZM673.54 235.7h4.6v1.4h-4.6ZM690.97 197.5h4.6v3.1h-4.6ZM708.4 169.2h4.6v22.8h-4.6ZM725.83 159.2h4.6v16.4h-4.6ZM743.26 167.8h4.6v1.1h-4.6ZM749.07 168.3h4.6v14.6h-4.6ZM754.88 182.3h4.6v4.2h-4.6ZM760.69 186.5h4.6v5.5h-4.6ZM778.12 168.3h4.6v16.4h-4.6ZM783.93 184.2h4.6v12.7h-4.6ZM789.74 196.2h4.6v19.5h-4.6ZM801.36 191.5h4.6v24.2h-4.6ZM807.17 215.2h4.6v7.8h-4.6ZM812.98 222h4.6v1h-4.6ZM818.79 222.8h4.6v1.5h-4.6ZM824.6 223.2h4.6v1.1h-4.6ZM842.03 217.7h4.6v11.1h-4.6ZM853.65 214.4h4.6v9.3h-4.6ZM871.08 216.1h4.6v10.5h-4.6ZM876.89 226.6h4.6v2.2h-4.6ZM882.7 228.8h4.6v1h-4.6ZM900.13 211h4.6v14.4h-4.6ZM911.75 223.2h4.6v1.8h-4.6ZM917.56 225h4.6v31.9h-4.6ZM923.37 256.5h4.6v19.5h-4.6ZM929.18 275.3h4.6v30.3h-4.6ZM940.8 302.9h4.6v1.9h-4.6ZM958.23 238.2h4.6v54.7h-4.6ZM975.66 263.7h4.6v3.7h-4.6ZM981.47 267.4h4.6v21.5h-4.6ZM987.28 288.4h4.6v4.5h-4.6ZM993.09 292.5h4.6v37.8h-4.6ZM998.9 329.4h4.6v14.6h-4.6ZM1016.33 309.3h4.6v17.3h-4.6ZM1033.76 304.2h4.6v12.4h-4.6ZM1045.38 307.5h4.6v8.2h-4.6ZM1057 288.9h4.6v16.8h-4.6ZM1062.81 305.3h4.6v1.3h-4.6ZM1068.62 307h4.6v2.2h-4.6ZM1086.05 283.3h4.6v1h-4.6ZM1091.86 284.6h4.6v3.7h-4.6ZM1103.48 285.5h4.6v19.2h-4.6ZM1109.29 304.1h4.6v12.8h-4.6ZM1115.1 316.5h4.6v1.5h-4.6ZM1132.53 299.2h4.6v18.8h-4.6ZM1149.96 307.4h4.6v3.3h-4.6ZM1155.77 310.1h4.6v34.7h-4.6ZM1167.39 339.8h4.6v19.5h-4.6ZM1179.01 316.5h4.6v20.4h-4.6Z" fill="#f23645"/>
<path d="M267.4 18.2H1204.6M267.4 136.4H1204.6M267.8 279.6H1204.6" stroke="#1e1e1e" stroke-width="1.3" fill="none"/>
<path d="M268.3 421.9H1204.9" stroke="#555" stroke-width="1.5" fill="none"/>
<path d="M274.8 33H1705" stroke="#ff9800" stroke-width="2" stroke-dasharray="2 4" fill="none"/>
<path d="M715.7 136.3H1705" stroke="#673ab7" stroke-width="2.3" stroke-dasharray="2.3 3.7" fill="none"/>
<path d="M954.3 233.1H1705" stroke="#2962ff" stroke-width="2" stroke-dasharray="9.9 12.13" fill="none"/>
<path d="M333 267.1H1705" stroke="#9598a1" stroke-width="2" stroke-dasharray="2 4" fill="none"/>
<path d="M303.4 300.1H1705" stroke="#f23645" stroke-width="2" stroke-dasharray="9.9 12.13" fill="none"/>
<path d="M13 331.8H1705" stroke="#089981" stroke-width="1.3" stroke-dasharray="1.5 1.5" fill="none" opacity="0.75"/>
<path d="M943.4 345.2H1705" stroke="#fbe01c" stroke-width="2" stroke-dasharray="2 4" fill="none"/>
<path d="M13.3 380.3H1705" stroke="#f23645" stroke-width="2" stroke-dasharray="9.9 12.13" fill="none"/>
<path d="M19 470.3 C19.9 470.15 15.63 469.78 24.4 469.4 C33.17 469.02 54.17 468.47 71.6 468 C89.03 467.53 116.33 467 129 466.6 C141.67 466.2 138.07 466.32 147.6 465.6 C157.13 464.88 172.6 463.33 186.2 462.3 C199.8 461.27 220.23 460.07 229.2 459.4 C238.17 458.73 232.58 459 240 458.3 C247.42 457.6 263.07 456.57 273.7 455.2 C284.33 453.83 294.98 452.03 303.8 450.1 C312.62 448.17 317.78 446.25 326.6 443.6 C335.42 440.95 347.58 437.37 356.7 434.2 C365.82 431.03 374.08 427.18 381.3 424.6 C388.52 422.02 387.53 422.97 400 418.7 C412.47 414.43 436.1 405.58 456.1 399 C476.1 392.42 501.65 384.7 520 379.2 C538.35 373.7 551.88 369.48 566.2 366 C580.52 362.52 593.05 361.23 605.9 358.3 C618.75 355.37 631.57 351.15 643.3 348.4 C655.03 345.65 663.45 344.75 676.3 341.8 C689.15 338.85 705.72 334.75 720.4 330.7 C735.08 326.65 752.8 320.32 764.4 317.5 C776 314.68 779.32 315.05 790 313.8 C800.68 312.55 814.02 312.05 828.5 310 C842.98 307.95 861.57 304 876.9 301.5 C892.23 299 903.13 296.22 920.5 295 C937.87 293.78 964.13 294 981.1 294.2 C998.07 294.4 1007.35 295.78 1022.3 296.2 C1037.25 296.62 1054.65 296.5 1070.8 296.7 C1086.95 296.9 1100.23 296.8 1119.2 297.4 C1138.17 298 1173.7 299.82 1184.6 300.3" stroke="#000" stroke-width="2.7" fill="none" stroke-linejoin="round" stroke-linecap="round"/>
<path d="M715.4 132.5L1204 319.7" stroke="#000" stroke-width="2.7" fill="none" stroke-linecap="round"/>
<rect x="1186.0" y="204.2" width="1.6" height="1.6" fill="#4caf50"/>
<rect x="296.4" y="446.2" width="1.6" height="1.6" fill="#4caf50"/>
<rect x="273.2" y="462.09999999999997" width="1.6" height="1.6" fill="#f7a9a7"/>
<rect x="471.09999999999997" y="322.9" width="1.6" height="1.6" fill="#4caf50"/>
<rect x="429.9" y="413.59999999999997" width="1.6" height="1.6" fill="#f7a9a7"/>
<rect x="598.9000000000001" y="294.0" width="1.6" height="1.6" fill="#f7a9a7"/>
<rect x="1232.2" y="457.2" width="1.6" height="1.6" fill="#4caf50"/>
<rect x="511.2" y="282.7" width="1.6" height="1.6" fill="#4caf50"/>
<path d="M1186.3 293.8 C1186.55 292.75 1187.07 289.2 1187.8 287.5 C1188.53 285.8 1189.57 284.28 1190.7 283.6 C1191.83 282.92 1193.05 283.27 1194.6 283.4 C1196.15 283.53 1198.2 284.62 1200 284.4 C1201.8 284.18 1203.52 283.13 1205.4 282.1 C1207.28 281.07 1209.35 279.73 1211.3 278.2 C1213.25 276.67 1214.83 274.37 1217.1 272.9 C1219.37 271.43 1222.45 269.65 1224.9 269.4 C1227.35 269.15 1229.52 270.9 1231.8 271.4 C1234.08 271.9 1236.65 272.73 1238.6 272.4 C1240.55 272.07 1241.87 270.87 1243.5 269.4 C1245.13 267.93 1246.78 266.12 1248.4 263.6 C1250.02 261.08 1251.58 256.75 1253.2 254.3 C1254.82 251.85 1256.47 249.55 1258.1 248.9 C1259.73 248.25 1261.05 249.25 1263 250.4 C1264.95 251.55 1267.35 254.17 1269.8 255.8 C1272.25 257.43 1275.42 259.4 1277.7 260.2 C1279.98 261 1281.55 261.02 1283.5 260.6 C1285.45 260.18 1287.45 259 1289.4 257.7 C1291.35 256.4 1293.42 255.15 1295.2 252.8 C1296.98 250.45 1298.8 246.85 1300.1 243.6 C1301.4 240.35 1302.52 235.02 1303 233.3" stroke="#4caf50" stroke-width="1.4" fill="none"/>
<path d="M1198.3 321.7 C1198.47 322.6 1198.57 325.55 1199.3 327.1 C1200.03 328.65 1201.32 330.68 1202.7 331 C1204.08 331.32 1205.48 329.43 1207.6 329 C1209.72 328.57 1213.45 328.07 1215.4 328.4 C1217.35 328.73 1218 329.67 1219.3 331 C1220.6 332.33 1222.07 334.88 1223.2 336.4 C1224.33 337.92 1224.32 339.13 1226.1 340.1 C1227.88 341.07 1230.97 341.32 1233.9 342.2 C1236.83 343.08 1240.27 344.5 1243.7 345.4 C1247.13 346.3 1251.08 347.72 1254.5 347.6 C1257.92 347.48 1261.12 345.76 1264.2 344.7 C1267.28 343.64 1270.4 342.15 1273 341.25 C1275.6 340.35 1277.93 338.89 1279.8 339.3 C1281.67 339.71 1283.13 341.75 1284.2 343.7 C1285.27 345.65 1285.62 348.48 1286.2 351 C1286.78 353.52 1286.8 356.6 1287.7 358.8 C1288.6 361 1290.3 363.13 1291.6 364.2 C1292.9 365.27 1293.55 365.53 1295.5 365.2 C1297.45 364.87 1300.87 362.97 1303.3 362.2 C1305.73 361.43 1307.82 360.02 1310.1 360.6 C1312.38 361.18 1315.05 363.55 1317 365.7 C1318.95 367.85 1320.27 371.38 1321.8 373.5 C1323.33 375.62 1325.47 377.58 1326.2 378.4" stroke="#f45c68" stroke-width="1.3" fill="none"/>
<text x="1215" y="22" font-size="15.2" fill="#333333" textLength="142" lengthAdjust="spacingAndGlyphs" stroke="#333333" stroke-width="0.25" >141.40% (127,287.74)</text>
<text x="1216" y="139.7" font-size="15.2" fill="#333333" textLength="140.6" lengthAdjust="spacingAndGlyphs" stroke="#333333" stroke-width="0.25" >100.00% (109,588.00)</text>
<text x="1214.5" y="283.6" font-size="15.2" fill="#333333" textLength="126.6" lengthAdjust="spacingAndGlyphs" stroke="#333333" stroke-width="0.25" >50.00% (88,211.50)</text>
<text x="1214.3" y="426.5" font-size="15.2" fill="#333333" textLength="119.6" lengthAdjust="spacingAndGlyphs" stroke="#333333" stroke-width="0.25" >0.00% (66,835.00)</text>
<text x="1696.4" y="225.4" font-size="15.2" fill="#2962ff" textLength="30" lengthAdjust="spacingAndGlyphs" text-anchor="end" stroke="#2962ff" stroke-width="0.7" >High</text>
<text x="1696.9" y="372.3" font-size="15.2" fill="#f23645" textLength="61.3" lengthAdjust="spacingAndGlyphs" text-anchor="end" stroke="#f23645" stroke-width="0.6" >Daily S/R</text>
</g>
<rect x="1710.8" y="7.8" width="88.6" height="32.3" rx="5" fill="#fff" stroke="#ececec" stroke-width="1.3"/>
<text x="1722.3" y="28.6" font-size="15" fill="#131722" textLength="34.4" lengthAdjust="spacingAndGlyphs" stroke="#131722" stroke-width="0.25" >USDT</text>
<g clip-path="url(#axmain)">
<text x="1717.6" y="71" font-size="15.2" fill="#131722" textLength="73.4" lengthAdjust="spacingAndGlyphs" stroke="#131722" stroke-width="0.25" >120,000.00</text>
<text x="1717.8" y="204.3" font-size="15.2" fill="#131722" textLength="73.6" lengthAdjust="spacingAndGlyphs" stroke="#131722" stroke-width="0.25" >100,000.00</text>
<text x="1717.2" y="406" font-size="15.2" fill="#131722" textLength="65.6" lengthAdjust="spacingAndGlyphs" stroke="#131722" stroke-width="0.25" >70,000.00</text>
<text x="1717.2" y="471.5" font-size="15.2" fill="#131722" textLength="65.6" lengthAdjust="spacingAndGlyphs" stroke="#131722" stroke-width="0.25" >60,000.00</text>
</g>
<path d="M1707 126.25H1796Q1799 126.25 1799 129.25V144Q1799 147 1796 147H1707Z" fill="#673ab7"/>
<text x="1718.5" y="140.9" font-size="15.2" fill="#fff" textLength="73.9" lengthAdjust="spacingAndGlyphs" stroke="#fff" stroke-width="0.25" >109,588.00</text>
<path d="M1707 223.4H1786.8Q1789.8 223.4 1789.8 226.4V240.9Q1789.8 243.9 1786.8 243.9H1707Z" fill="#2962ff"/>
<text x="1717.8" y="238.4" font-size="15.2" fill="#fff" textLength="66.4" lengthAdjust="spacingAndGlyphs" stroke="#fff" stroke-width="0.25" >95,000.00</text>
<path d="M1707 248.4H1786.8Q1789.8 248.4 1789.8 251.4V265Q1789.8 268 1786.8 268H1707Z" fill="#a0a0a0"/>
<text x="1717.8" y="262.9" font-size="15.2" fill="#000" textLength="66.4" lengthAdjust="spacingAndGlyphs" stroke="#000" stroke-width="0.25" >90,000.00</text>
<path d="M1707 269.2H1786.8Q1789.8 269.2 1789.8 272.2V286.7Q1789.8 289.7 1786.8 289.7H1707Z" fill="#000"/>
<text x="1717.8" y="284.4" font-size="15.2" fill="#fff" textLength="66" lengthAdjust="spacingAndGlyphs" stroke="#fff" stroke-width="0.25" >85,034.02</text>
<path d="M1707 290.7H1786.8Q1789.8 290.7 1789.8 293.7V308.1Q1789.8 311.1 1786.8 311.1H1707Z" fill="#f23645"/>
<text x="1717.8" y="305.3" font-size="15.2" fill="#fff" textLength="66.4" lengthAdjust="spacingAndGlyphs" stroke="#fff" stroke-width="0.25" >85,000.00</text>
<path d="M1707 321.25H1786.8Q1789.8 321.25 1789.8 324.25V355.75Q1789.8 358.75 1786.8 358.75H1707Z" fill="#089981"/>
<text x="1718" y="336.3" font-size="15.2" fill="#fff" textLength="66" lengthAdjust="spacingAndGlyphs" stroke="#fff" stroke-width="0.25" >80,401.83</text>
<text x="1718" y="354" font-size="15.2" fill="#fff" textLength="57.8" lengthAdjust="spacingAndGlyphs" stroke="#fff" stroke-width="0.25" >21:06:25</text>
<path d="M1707 359.8H1786.8Q1789.8 359.8 1789.8 362.8V377.2Q1789.8 380.2 1786.8 380.2H1707Z" fill="#ffeb3b"/>
<text x="1718" y="374.6" font-size="15.2" fill="#000" textLength="65.6" lengthAdjust="spacingAndGlyphs" stroke="#000" stroke-width="0.25" >78,258.52</text>
<path d="M1707 382.2H1786.8Q1789.8 382.2 1789.8 385.2V399Q1789.8 402 1786.8 402H1707Z" fill="#f23645"/>
<text x="1718" y="396.6" font-size="15.2" fill="#fff" textLength="65.6" lengthAdjust="spacingAndGlyphs" stroke="#fff" stroke-width="0.25" >73,072.41</text>
<text x="1717" y="491.9" font-size="15.2" fill="#131722" textLength="35.3" lengthAdjust="spacingAndGlyphs" stroke="#131722" stroke-width="0.25" >100 K</text>
<path d="M1707.1 537.1H1761.8Q1764.8 537.1 1764.8 540.1V554.5Q1764.8 557.5 1761.8 557.5H1707.1Z" fill="#26a69a"/>
<text x="1718.3" y="552.3" font-size="15.2" fill="#fff" textLength="39.9" lengthAdjust="spacingAndGlyphs" stroke="#fff" stroke-width="0.25" >3.66 K</text>
<text x="1717" y="593.7" font-size="15.2" fill="#131722" textLength="37.2" lengthAdjust="spacingAndGlyphs" stroke="#131722" stroke-width="0.25" >75.00</text>
<text x="1717" y="637.3" font-size="15.2" fill="#131722" textLength="37.2" lengthAdjust="spacingAndGlyphs" stroke="#131722" stroke-width="0.25" >50.00</text>
<text x="1717" y="681.2" font-size="15.2" fill="#131722" textLength="37.2" lengthAdjust="spacingAndGlyphs" stroke="#131722" stroke-width="0.25" >25.00</text>
<path d="M1707.1 631.2H1757.8Q1760.8 631.2 1760.8 634.2V648.1Q1760.8 651.1 1757.8 651.1H1707.1Z" fill="#7e57c2"/>
<text x="1717.6" y="645.9" font-size="15.2" fill="#fff" textLength="37.5" lengthAdjust="spacingAndGlyphs" stroke="#fff" stroke-width="0.25" >45.00</text>
<path d="M1707.1 652.3H1757.8Q1760.8 652.3 1760.8 655.3V669.2Q1760.8 672.2 1757.8 672.2H1707.1Z" fill="#fdd835"/>
<text x="1717.6" y="667.5" font-size="15.2" fill="#000" textLength="37.5" lengthAdjust="spacingAndGlyphs" stroke="#000" stroke-width="0.25" >43.04</text>
<text x="59.15" y="712.2" font-size="15.2" fill="#131722" textLength="23.1" lengthAdjust="spacingAndGlyphs" stroke="#131722" stroke-width="0.25" >Oct</text>
<text x="238.85" y="712.2" font-size="15.2" fill="#131722" textLength="24.3" lengthAdjust="spacingAndGlyphs" stroke="#131722" stroke-width="0.25" >Nov</text>
<text x="413.55" y="712.2" font-size="15.2" fill="#131722" textLength="24.3" lengthAdjust="spacingAndGlyphs" stroke="#131722" stroke-width="0.25" >Dec</text>
<text x="774.25" y="712.2" font-size="15.2" fill="#131722" textLength="23.9" lengthAdjust="spacingAndGlyphs" stroke="#131722" stroke-width="0.25" >Feb</text>
<text x="935.8" y="712.2" font-size="15.2" fill="#131722" textLength="25" lengthAdjust="spacingAndGlyphs" stroke="#131722" stroke-width="0.25" >Mar</text>
<text x="1116.75" y="712.2" font-size="15.2" fill="#131722" textLength="23.9" lengthAdjust="spacingAndGlyphs" stroke="#131722" stroke-width="0.25" >Apr</text>
<text x="1289.8" y="712.2" font-size="15.2" fill="#131722" textLength="26.6" lengthAdjust="spacingAndGlyphs" stroke="#131722" stroke-width="0.25" >May</text>
<text x="1471.65" y="712.2" font-size="15.2" fill="#131722" textLength="23.9" lengthAdjust="spacingAndGlyphs" stroke="#131722" stroke-width="0.25" >Jun</text>
<text x="1647.95" y="712.2" font-size="15.2" fill="#131722" textLength="19.5" lengthAdjust="spacingAndGlyphs" stroke="#131722" stroke-width="0.25" >Jul</text>
<text x="588.5" y="712.2" font-size="15.2" fill="#131722" textLength="34.4" lengthAdjust="spacingAndGlyphs" font-weight="bold" stroke="#131722" stroke-width="0" >2025</text>
<path d="M13.15 739.9H22.7V751.7H18.07V744.2H13.15Z" fill="#0f0f0f"/>
<circle cx="26.9" cy="742.3" r="2.5" fill="#0f0f0f"/>
<path d="M32.15 739.9H37.35L32.8 751.7H27.1Z" fill="#0f0f0f"/>
<text x="42.1" y="751.9" font-size="16.3" fill="#131722" textLength="87.7" lengthAdjust="spacingAndGlyphs" stroke="#131722" stroke-width="0.25" >TradingView</text>
</svg></body></html>
